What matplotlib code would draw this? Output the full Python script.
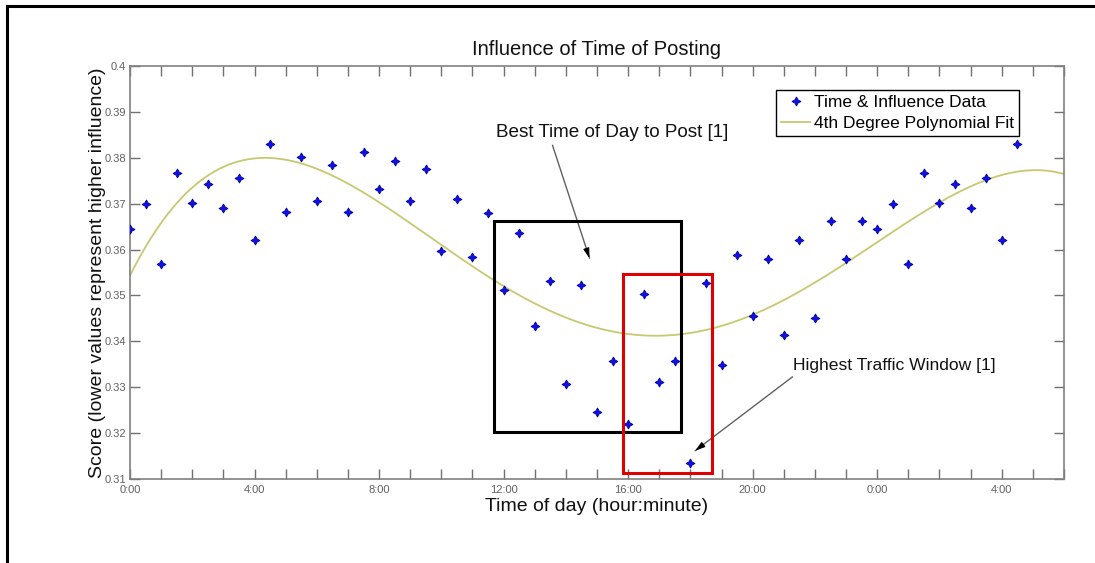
import numpy as np
import matplotlib
matplotlib.use("Agg")
import matplotlib.pyplot as plt
from matplotlib.patches import Rectangle
from matplotlib.lines import Line2D

plt.rcParams['font.family'] = ['Liberation Sans', 'DejaVu Sans']

# ---- data ----
hours = np.arange(0, 29, 0.5)  # 0:00 .. 28:30, half-hour samples
scores = [
    0.3644, 0.3698, 0.3569, 0.3766, 0.3701, 0.3742, 0.3691, 0.3755, 0.3621, 0.3830,
    0.3681, 0.3802, 0.3705, 0.3784, 0.3681, 0.3812, 0.3732, 0.3793, 0.3705, 0.3775,
    0.3597, 0.3709, 0.3583, 0.3680, 0.3513, 0.3635, 0.3433, 0.3532, 0.3308, 0.3522,
    0.3247, 0.3358, 0.3220, 0.3504, 0.3312, 0.3358, 0.3135, 0.3527, 0.3349, 0.3588,
    0.3455, 0.3579, 0.3414, 0.3621, 0.3452, 0.3662, 0.3579, 0.3662,
    0.3644, 0.3698, 0.3569, 0.3766, 0.3701, 0.3742, 0.3691, 0.3755, 0.3621, 0.3830,
]
xtick_pos = [0, 4, 8, 12, 16, 20, 24, 28]
xtick_labels = ['0:00', '4:00', '8:00', '12:00', '16:00', '20:00', '0:00', '4:00']
ytick_pos = [0.31, 0.32, 0.33, 0.34, 0.35, 0.36, 0.37, 0.38, 0.39, 0.40]
ytick_labels = ['0.31', '0.32', '0.33', '0.34', '0.35', '0.36', '0.37', '0.38', '0.39', '0.4']
best_window = (11.7, 17.7, 0.3202, 0.3661)      # x0, x1, y0, y1
traffic_window = (15.83, 18.68, 0.3113, 0.3546)

# ---- figure ----
fig = plt.figure(figsize=(10.95, 5.63), dpi=100)
ax = fig.add_axes([130/1095, 1-479.3/563, 934/1095, 413.6/563])

scores = np.array(scores)
coef = np.polyfit(hours, scores, 4)
xf = np.linspace(0, 30, 400)
fit_color = '#c8c870'
mk = dict(linestyle='none', marker=(4, 1, 0), markersize=6.5,
          markeredgewidth=0.6, color='#1010e8', markeredgecolor='#0000a0')

ax.plot(xf, np.polyval(coef, xf), color=fit_color, lw=1.3, zorder=2)
ax.plot(hours, scores, zorder=3, **mk)

# boxes
bx0, bx1, by0, by1 = best_window
ax.add_patch(Rectangle((bx0, by0), bx1-bx0, by1-by0, fill=False, ec='black', lw=2.2, zorder=4))
rx0, rx1, ry0, ry1 = traffic_window
ax.add_patch(Rectangle((rx0, ry0), rx1-rx0, ry1-ry0, fill=False, ec='#e00000', lw=2.2, zorder=4))

# annotations
def arrow(text_xy, tip_xy):
    ax.annotate('', xy=tip_xy, xytext=text_xy,
                arrowprops=dict(arrowstyle='-', color='#606060', lw=1.0,
                                shrinkA=0, shrinkB=0))
    tx, ty = text_xy
    px, py = tip_xy
    hx = px + (tx - px) * 0.08
    hy = py + (ty - py) * 0.08
    ax.annotate('', xy=tip_xy, xytext=(hx, hy),
                arrowprops=dict(arrowstyle='-|>,head_length=0.6,head_width=0.18',
                                color='black', lw=0.8, shrinkA=0, shrinkB=0))

ax.text(11.77, 0.3854, 'Best Time of Day to Post [1]', fontsize=13.6,
        ha='left', va='center', color='#111111')
arrow((13.57, 0.3827), (14.76, 0.3581))
ax.text(21.3, 0.3347, 'Highest Traffic Window [1]', fontsize=12.6,
        ha='left', va='center', color='#111111')
arrow((21.28, 0.3323), (18.15, 0.3162))

# axes styling
ax.set_xlim(0, 30)
ax.set_ylim(0.31, 0.40)
ax.set_xticks(np.arange(0, 31, 1))
ax.set_xticklabels([xtick_labels[xtick_pos.index(v)] if v in xtick_pos else ''
                    for v in range(0, 31)])
ax.set_yticks(ytick_pos)
ax.set_yticklabels(ytick_labels)
ax.tick_params(axis='both', which='both', direction='in', length=7, width=1,
               color='#707070', labelcolor='#606060', labelsize=8,
               top=True, right=True)
ax.tick_params(axis='x', pad=4)
ax.tick_params(axis='y', pad=3)
for s in ax.spines.values():
    s.set_color('#808080')
    s.set_linewidth(1.2)

ax.set_title('Influence of Time of Posting', fontsize=14.5, color='#111111', pad=8)
ax.set_xlabel('Time of day (hour:minute)', fontsize=14, color='#111111', labelpad=2)
ax.set_ylabel('Score (lower values represent higher influence)', fontsize=14,
              color='#111111', labelpad=-1)

handles = [Line2D([], [], **mk), Line2D([], [], color=fit_color, lw=1.3)]
leg = ax.legend(handles, ['Time & Influence Data', '4th Degree Polynomial Fit'],
                loc='upper right', bbox_to_anchor=(0.952, 0.9413), fontsize=12.5,
                fancybox=False, framealpha=1, edgecolor='black', borderpad=0.3,
                handlelength=1.7, handletextpad=0.2, labelspacing=0.3,
                borderaxespad=0)
leg.get_frame().set_linewidth(1.0)

# outer frame (left and top edges visible)
fig.add_artist(Line2D([7/1095, 7/1095], [0, 1-6/563], transform=fig.transFigure,
                      color='black', lw=2.2))
fig.add_artist(Line2D([7/1095, 1], [1-6/563, 1-6/563], transform=fig.transFigure,
                      color='black', lw=2.2))

fig.savefig('out.png', dpi=100)
